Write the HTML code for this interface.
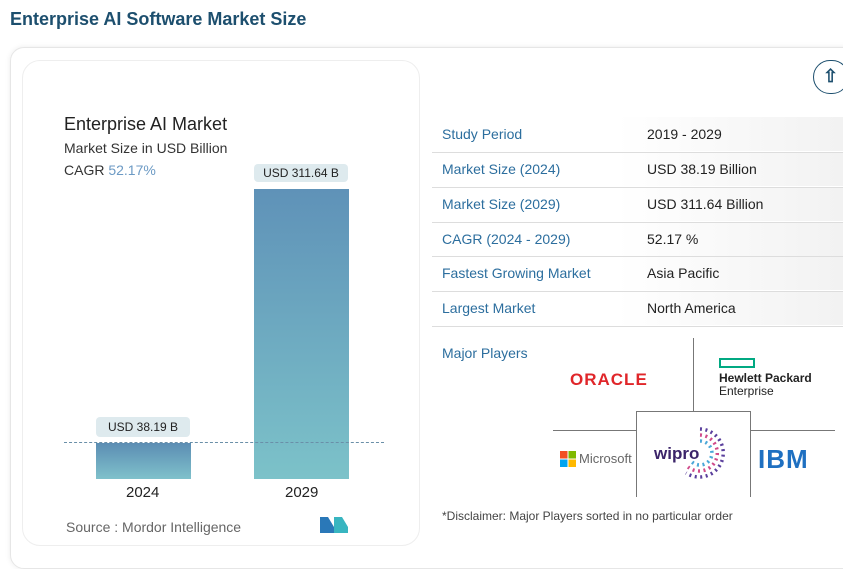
<!DOCTYPE html>
<html><head><style>
body{margin:0;width:843px;height:548px;background:#fff;font-family:"Liberation Sans",sans-serif;position:relative;overflow:hidden}
.a{position:absolute;white-space:nowrap}
.lbl{color:#2c6e9e;font-size:14px}
.val{color:#222;font-size:14px}
.row{position:absolute;left:432px;width:411px;height:34px;background:linear-gradient(to right,#fff,#fff 45%,#f2f2f2)}
.sep{position:absolute;left:432px;width:411px;height:1px;background:#ddd}
</style></head><body>
<div class="a" style="left:10px;top:9px;font-size:18px;font-weight:bold;color:#1d4f6e">Enterprise AI Software Market Size</div>
<div class="a" style="left:10px;top:47px;width:860px;height:520px;border:1px solid #e6e6e6;border-radius:14px;box-shadow:0 0 6px rgba(0,0,0,0.08)"></div>
<div class="a" style="left:22px;top:60px;width:396px;height:484px;border:1px solid #eee;border-radius:18px;background:#fff"></div>
<div class="a" style="left:64px;top:114px;font-size:18px;color:#222">Enterprise AI Market</div>
<div class="a" style="left:64px;top:140px;font-size:14px;color:#333">Market Size in USD Billion</div>
<div class="a" style="left:64px;top:162px;font-size:14px;color:#333">CAGR <span style="color:#6c9ac4">52.17%</span></div>
<div class="a" style="left:96px;top:443px;width:95px;height:36px;background:linear-gradient(#5b8db3,#7fc1cb)"></div>
<div class="a" style="left:254px;top:189px;width:95px;height:290px;background:linear-gradient(#5f92b8,#7cc2c9)"></div>
<div class="a" style="left:64px;top:442px;width:320px;border-top:1px dashed #6a8fa8"></div>
<div class="a" style="left:96px;top:417px;width:94px;height:20px;background:#deeaee;border-radius:4px;font-size:12px;text-align:center;line-height:20px;color:#222">USD 38.19 B</div>
<div class="a" style="left:254px;top:164px;width:94px;height:18px;background:#deeaee;border-radius:4px;font-size:12px;text-align:center;line-height:18px;color:#222">USD 311.64 B</div>
<div class="a" style="left:126px;top:484px;font-size:15px;color:#222">2024</div>
<div class="a" style="left:285px;top:484px;font-size:15px;color:#222">2029</div>
<div class="a" style="left:66px;top:519px;font-size:14px;color:#666">Source :  Mordor Intelligence</div>
<svg class="a" style="left:320px;top:517px" width="28" height="16"><polygon points="0,16 0,0 8,0 14,10 14,16" fill="#2a78b8"/><polygon points="14,16 14,0 22,0 28,10 28,16" fill="#38b5c0"/></svg>
<div class="a" style="left:813px;top:60px;width:34px;height:32px;border:1.5px solid #1d4f6e;border-radius:17px;font-size:18px;line-height:30px;text-indent:9px;color:#1d4f6e;font-weight:bold">⇧</div>
<div class="row" style="top:117px"></div>
<div class="row" style="top:152px"></div>
<div class="row" style="top:187px"></div>
<div class="row" style="top:222px"></div>
<div class="row" style="top:256px"></div>
<div class="row" style="top:291px"></div>
<div class="sep" style="top:152px"></div><div class="sep" style="top:187px"></div><div class="sep" style="top:222px"></div><div class="sep" style="top:256px"></div><div class="sep" style="top:291px"></div><div class="sep" style="top:326px"></div>
<div class="a lbl" style="left:442px;top:126px">Study Period</div><div class="a val" style="left:647px;top:126px">2019 - 2029</div>
<div class="a lbl" style="left:442px;top:161px">Market Size (2024)</div><div class="a val" style="left:647px;top:161px">USD 38.19 Billion</div>
<div class="a lbl" style="left:442px;top:196px">Market Size (2029)</div><div class="a val" style="left:647px;top:196px">USD 311.64 Billion</div>
<div class="a lbl" style="left:442px;top:231px">CAGR (2024 - 2029)</div><div class="a val" style="left:647px;top:231px">52.17 %</div>
<div class="a lbl" style="left:442px;top:265px">Fastest Growing Market</div><div class="a val" style="left:647px;top:265px">Asia Pacific</div>
<div class="a lbl" style="left:442px;top:300px">Largest Market</div><div class="a val" style="left:647px;top:300px">North America</div>
<div class="a lbl" style="left:442px;top:345px">Major Players</div>
<div class="a" style="left:693px;top:338px;height:73px;border-left:1px solid #777"></div>
<div class="a" style="left:553px;top:430px;width:83px;border-top:1px solid #777"></div>
<div class="a" style="left:750px;top:430px;width:85px;border-top:1px solid #777"></div>
<div class="a" style="left:636px;top:411px;width:113px;height:85px;border:1px solid #777;border-bottom:none"></div>
<div class="a" style="left:570px;top:370px;font-size:17px;font-weight:bold;color:#e0262a;letter-spacing:1px">ORACLE</div>
<div class="a" style="left:719px;top:358px;width:32px;height:6px;border:2px solid #01a982"></div>
<div class="a" style="left:719px;top:372px;font-size:12px;font-weight:bold;color:#222;line-height:13px">Hewlett Packard<br><span style="font-weight:normal">Enterprise</span></div>
<svg class="a" style="left:560px;top:451px" width="16" height="16"><rect x="0" y="0" width="7.5" height="7.5" fill="#f25022"/><rect x="8.5" y="0" width="7.5" height="7.5" fill="#7fba00"/><rect x="0" y="8.5" width="7.5" height="7.5" fill="#00a4ef"/><rect x="8.5" y="8.5" width="7.5" height="7.5" fill="#ffb900"/></svg>
<div class="a" style="left:579px;top:451px;font-size:13px;color:#666">Microsoft</div>
<svg class="a" style="left:672px;top:425px" width="56" height="56"><g fill="none" stroke-dasharray="2 3.5" stroke-width="3.5"><path d="M28 4 A24 24 0 1 1 14 48" stroke="#5a3f9c"/><path d="M28 10 A18 18 0 1 1 16 42" stroke="#d04a8a"/><path d="M28 16 A12 12 0 1 1 20 37" stroke="#4aa7d8"/></g></svg>
<div class="a" style="left:654px;top:444px;font-size:17px;font-weight:bold;color:#3b2469">wipro</div>
<div class="a" style="left:758px;top:444px;font-size:26px;font-weight:bold;color:#1f70c1;letter-spacing:1px;line-height:30px">IBM</div>
<div class="a" style="left:442px;top:509px;font-size:12px;color:#444">*Disclaimer: Major Players sorted in no particular order</div>
</body></html>
